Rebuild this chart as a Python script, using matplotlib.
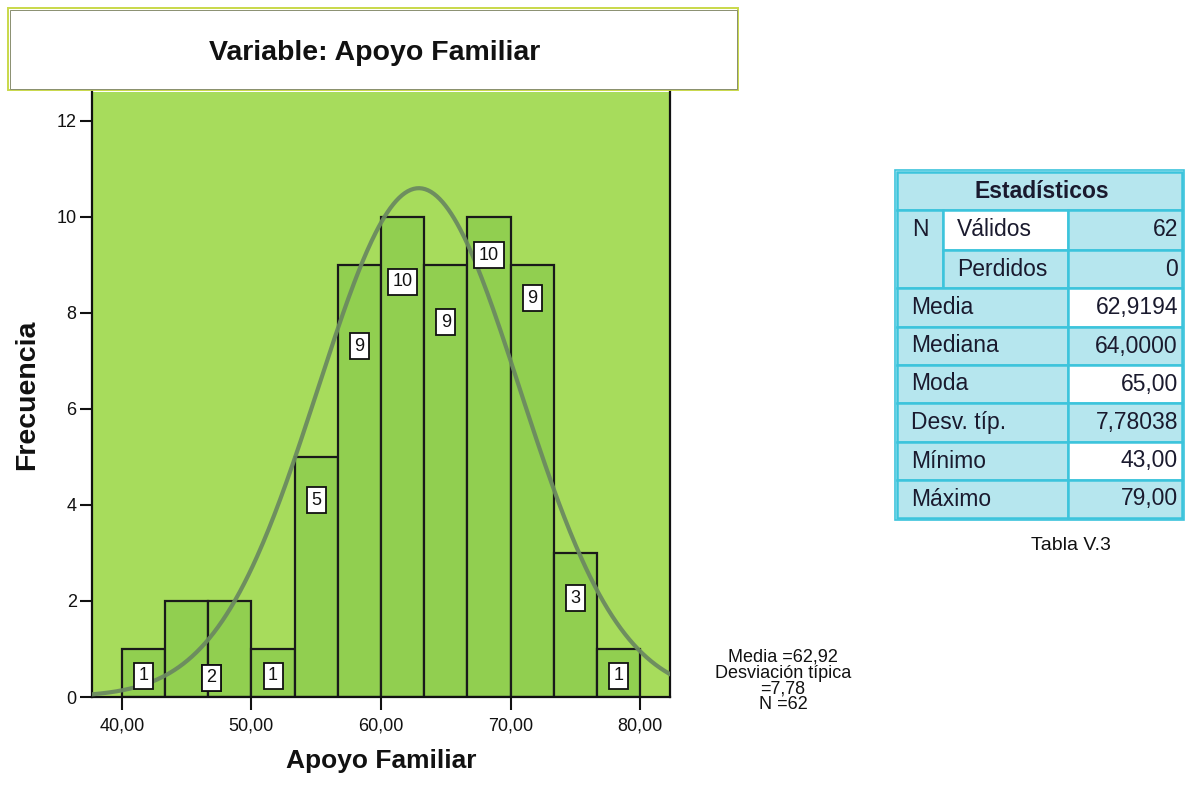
import numpy as np
import matplotlib
matplotlib.use("Agg")
import matplotlib.pyplot as plt
from matplotlib.patches import Rectangle

# ---- data ----
bin_edges = [40.0, 43.333, 46.667, 50.0, 53.333, 56.667, 60.0, 63.333, 66.667, 70.0, 73.333, 76.667, 80.0]
counts = [1, 2, 2, 1, 5, 9, 10, 9, 10, 9, 3, 1]
# label box vertical position (in frequency units) and x position for each bar's count label
label_y = [0.44, 0.4, 0.4, 0.44, 4.1, 7.3, 8.65, 7.8, 9.2, 8.3, 2.06, 0.44]
label_x = [41.67, 46.9, 46.9, 51.67, 55.0, 58.33, 61.67, 65.0, 68.33, 71.67, 75.0, 78.33]
mean_val = 62.9194
sd_val = 7.78038
n_val = 62
xticks = [40, 50, 60, 70, 80]
xtick_labels = ["40,00", "50,00", "60,00", "70,00", "80,00"]
yticks = [0, 2, 4, 6, 8, 10, 12]

table_rows = [
    ("Media", "62,9194"),
    ("Mediana", "64,0000"),
    ("Moda", "65,00"),
    ("Desv. típ.", "7,78038"),
    ("Mínimo", "43,00"),
    ("Máximo", "79,00"),
]
n_rows = [("Válidos", "62"), ("Perdidos", "0")]

plt.rcParams["font.family"] = ["Liberation Sans", "DejaVu Sans"]

W, H = 1188, 785
fig = plt.figure(figsize=(W / 100, H / 100), dpi=100)
fig.patch.set_facecolor("white")

def fx(px):
    return px / W

def fy(py):
    return 1 - py / H

# main axes: x 92..670, y 92..697 (pixels)
ax = fig.add_axes([fx(92), fy(697), fx(670) - fx(92), fy(92) - fy(697)])
ax.set_facecolor("#a7dc5c")
ax.set_xlim(37.7, 82.3)
ax.set_ylim(0, 12.6)

widths = np.diff(bin_edges)
ax.bar(bin_edges[:-1], counts, width=widths, align="edge",
       color="#91cf50", edgecolor="#1a1a1a", linewidth=1.6, zorder=2)

# normal curve
xs = np.linspace(37.7, 82.3, 400)
bw = (bin_edges[-1] - bin_edges[0]) / len(counts)
ys = n_val * bw / (sd_val * np.sqrt(2 * np.pi)) * np.exp(-0.5 * ((xs - mean_val) / sd_val) ** 2)
ax.plot(xs, ys, color="#6b8a60", linewidth=3, zorder=3, alpha=0.95)

for c, lx, ly in zip(counts, label_x, label_y):
    ax.text(lx, ly, str(c), ha="center", va="center", fontsize=13, color="#111111",
            zorder=5,
            bbox=dict(boxstyle="square,pad=0.25", facecolor="white", edgecolor="#111111", linewidth=1.3))

for s in ["left", "right", "bottom"]:
    ax.spines[s].set_color("#111111")
    ax.spines[s].set_linewidth(1.6)
ax.spines["top"].set_visible(False)

ax.set_xticks(xticks)
ax.set_xticklabels(xtick_labels)
ax.set_yticks(yticks)
ax.tick_params(axis="both", direction="out", length=9, width=1.5, color="#111111",
               labelsize=13, labelcolor="#111111")
ax.tick_params(axis="x", pad=6)
ax.tick_params(axis="y", pad=2)

ax.set_xlabel("Apoyo Familiar", fontsize=19, fontweight="bold", color="#111111", labelpad=10)
ax.set_ylabel("Frecuencia", fontsize=20.5, fontweight="bold", color="#111111", labelpad=12)

# overlay axes in pixel coordinates
ov = fig.add_axes([0, 0, 1, 1], zorder=-1)
ov.set_xlim(0, W)
ov.set_ylim(H, 0)
ov.axis("off")

# title box
ov.add_patch(Rectangle((8, 8), 730, 82, facecolor="white", edgecolor="#c9d84a", linewidth=1.4))
ov.add_patch(Rectangle((9.5, 9.5), 727, 79, facecolor="none", edgecolor="#8a8f70", linewidth=0.7))
ov.text(375, 53, "Variable: Apoyo Familiar", ha="center", va="center",
        fontsize=20.5, fontweight="bold", color="#111111")

# stats text right of plot
ov.text(783, 681, f"Media ={mean_val:.2f}".replace(".", ",") + "\nDesviación típica\n=" +
        f"{sd_val:.2f}".replace(".", ",") + f"\nN ={n_val}",
        ha="center", va="center", fontsize=13, color="#111111", linespacing=0.9)

# statistics table
blue = "#b6e6ee"
border = "#3cc4dc"
x0, x1, x2, x3 = 897, 943, 1068, 1182
row_tops = [172, 210, 250, 288, 327, 365, 403, 442, 480, 518]
lw = 1.8
fs = 16.5

def cell(xa, ya, xb, yb, fc=blue):
    ov.add_patch(Rectangle((xa, ya), xb - xa, yb - ya, facecolor=fc, edgecolor=border, linewidth=lw))

# header
cell(x0, row_tops[0], x3, row_tops[1])
ov.text((x0 + x3) / 2 + 2, (row_tops[0] + row_tops[1]) / 2 + 1, "Estadísticos", ha="center", va="center",
        fontsize=16.5, fontweight="bold", color="#1a1a2e")
# N rows
cell(x0, row_tops[1], x1, row_tops[3])
ov.text((x0 + x1) / 2, (row_tops[1] + row_tops[2]) / 2, "N", ha="center", va="center",
        fontsize=fs, color="#1a1a2e")
for i, (lab, val) in enumerate(n_rows):
    ya, yb = row_tops[1 + i], row_tops[2 + i]
    cell(x1, ya, x2, yb, fc="white" if i == 0 else blue)
    cell(x2, ya, x3, yb)
    ov.text(x1 + 14, (ya + yb) / 2, lab, ha="left", va="center", fontsize=fs, color="#1a1a2e")
    ov.text(x3 - 4, (ya + yb) / 2, val, ha="right", va="center", fontsize=fs, color="#1a1a2e")
white_vals = {0, 2, 4}
for i, (lab, val) in enumerate(table_rows):
    ya, yb = row_tops[3 + i], row_tops[4 + i]
    cell(x0, ya, x2, yb)
    cell(x2, ya, x3, yb, fc="white" if i in white_vals else blue)
    ov.text(x0 + 14, (ya + yb) / 2, lab, ha="left", va="center", fontsize=fs, color="#1a1a2e")
    ov.text(x3 - 4, (ya + yb) / 2, val, ha="right", va="center", fontsize=fs, color="#1a1a2e")
ov.add_patch(Rectangle((x0 - 2, row_tops[0] - 2), x3 - x0 + 4, row_tops[-1] - row_tops[0] + 4,
                       facecolor="none", edgecolor=border, linewidth=1.2))
ov.text(1071, 545, "Tabla V.3", ha="center", va="center", fontsize=14, color="#111111")

fig.savefig("out.png", dpi=100, facecolor="white")
